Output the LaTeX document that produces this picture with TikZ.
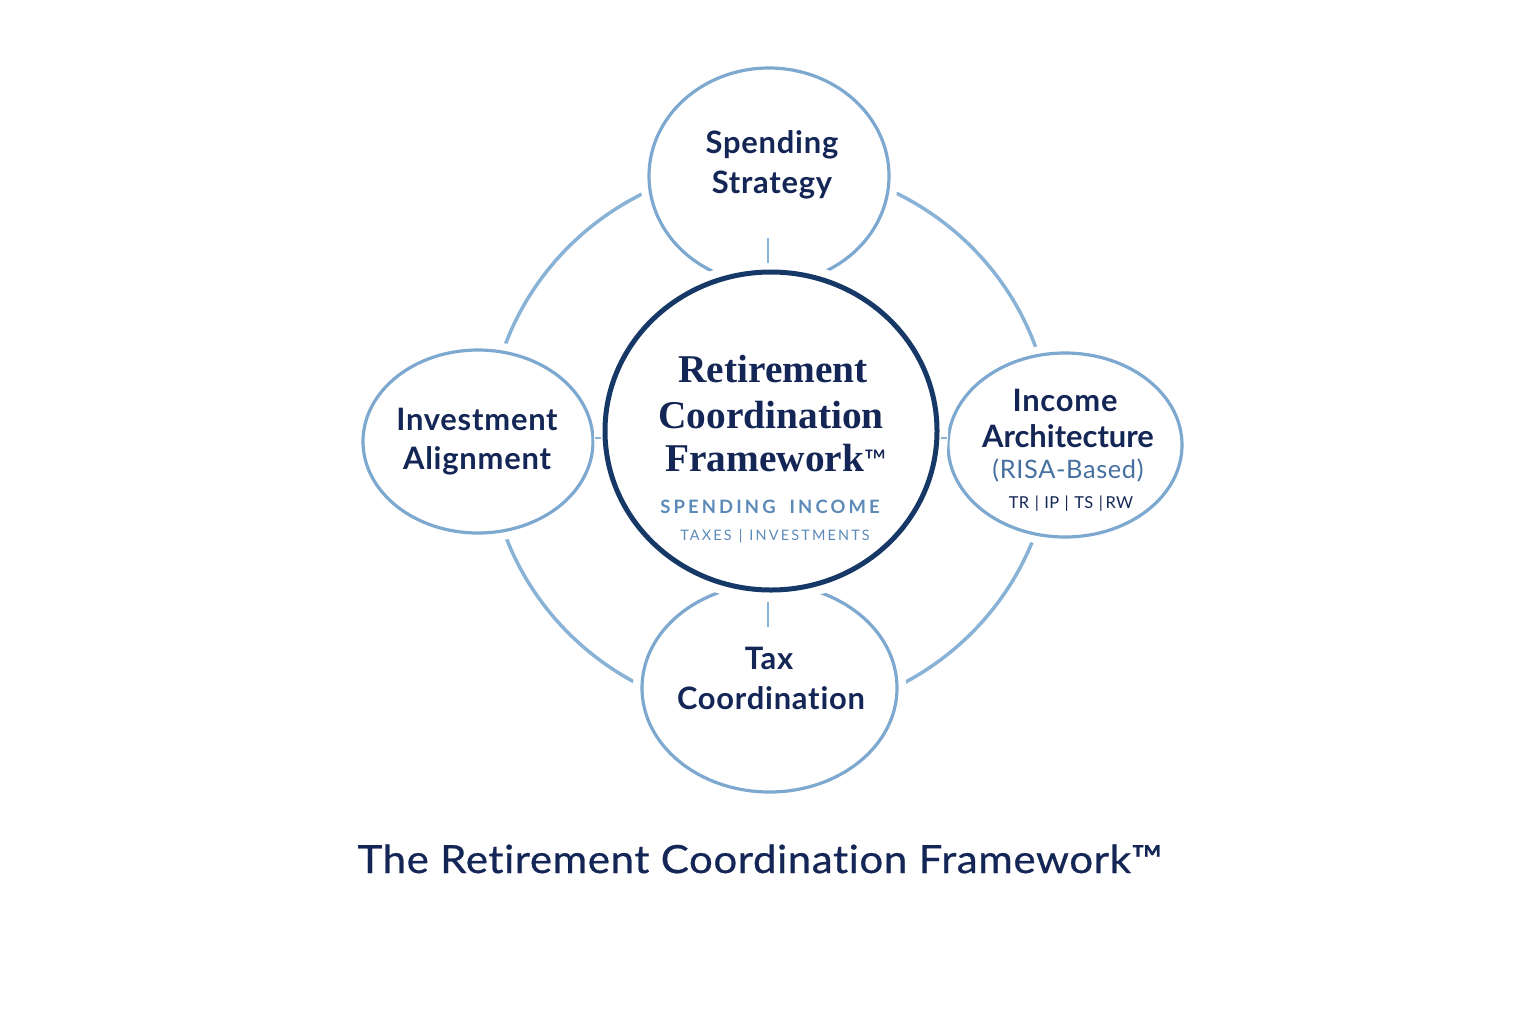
\documentclass[tikz,border=0pt]{standalone}
\usepackage{fontspec}
\setmainfont{Lato}[Ligatures=NoCommon]
\newfontfamily\satfont{Lato}[Ligatures=NoCommon, LetterSpace=2.5]
\newfontfamily\satfontn{Lato}[Ligatures=NoCommon, LetterSpace=0]
\newfontfamily\cserif{Liberation Serif}
\newfontfamily\spacedA{Lato}[LetterSpace=17, Ligatures=NoCommon]
\newfontfamily\spacedB{Lato}[LetterSpace=15, Ligatures=NoCommon]
\newfontfamily\titlefont{Lato}[Ligatures=NoCommon, LetterSpace=1.5, FakeBold=0.6]
\usetikzlibrary{shapes.geometric}
\definecolor{navy}{RGB}{20,38,86}
\definecolor{cblue}{RGB}{22,56,102}
\definecolor{satblue}{RGB}{125,168,207}
\definecolor{ringblue}{RGB}{136,178,214}
\definecolor{subblue}{RGB}{92,138,184}
\definecolor{risablue}{RGB}{70,112,160}
\tikzset{
  sat/.style={ellipse, draw=satblue, line width=3.2bp, fill=white,
    preaction={draw=white, line width=18bp}, inner sep=0pt},
  hub/.style={ellipse, draw=cblue, line width=5bp, fill=white,
    preaction={draw=white, line width=22bp}, inner sep=0pt},
  ringline/.style={ellipse, draw=ringblue, line width=3.5bp, inner sep=0pt},
  tick/.style={draw=ringblue, line width=2.5bp},
  sattext/.style={font=\satfont\bfseries\fontsize{31}{36}\selectfont, text=navy, anchor=base, inner sep=0pt},
  hubtext/.style={font=\cserif\bfseries\fontsize{39.5}{44}\selectfont, text=navy, anchor=base, inner sep=0pt},
}
\begin{document}
\begin{tikzpicture}[x=1bp,y=1bp]
\fill[white] (0,0) rectangle (1536,-1024);
\useasboundingbox (0,0) rectangle (1536,-1024);
% outer ring
\node[ringline, minimum width=564bp, minimum height=552bp] (ring) at (770,-440) {};
% satellites
\node[sat, minimum width=240bp, minimum height=216bp] (top) at (769,-176) {};
\node[sat, minimum width=230bp, minimum height=183bp] (left) at (478,-441.5) {};
\node[sat, minimum width=234bp, minimum height=184bp] (right) at (1065,-445) {};
\node[sat, minimum width=255bp, minimum height=208bp] (bottom) at (769.5,-688) {};
% hub
\node[hub, minimum width=332bp, minimum height=318bp] (hub) at (771,-431) {};
% ticks
\coordinate (t1a) at (768,-238); \coordinate (t1b) at (768,-263);
\coordinate (t2a) at (768,-602); \coordinate (t2b) at (768,-627);
\coordinate (t3a) at (594.5,-438); \coordinate (t3b) at (600.5,-438);
\coordinate (t4a) at (940.5,-438); \coordinate (t4b) at (946.5,-438);
\draw[tick] (t1a) -- (t1b);
\draw[tick] (t2a) -- (t2b);
\draw[tick] (t3a) -- (t3b);
\draw[tick] (t4a) -- (t4b);
% satellite texts
\node[sattext] (sp1) at (772,-153) {Spending};
\node[sattext] (sp2) at (772,-193) {Strategy};
\node[sattext] (ia1) at (477,-430) {Investment};
\node[sattext] (ia2) at (477,-469) {Alignment};
\node[sattext] (ic1) at (1065,-411) {Income};
\node[sattext, font=\satfontn\bfseries\fontsize{31}{36}\selectfont] (ic2) at (1068,-447) {Architecture};
\node[anchor=base, inner sep=0pt, text=risablue, font=\satfont\fontsize{25.5}{30}\selectfont] (ic3) at (1068,-478) {(RISA-Based)};
\node[anchor=base, inner sep=0pt, text=navy, font=\satfont\fontsize{16.5}{20}\selectfont] (ic4) at (1071,-508) {TR\,\,|\,\,IP\,\,|\,\,TS\,\,|\,RW};
\node[sattext] (tc1) at (769,-669) {Tax};
\node[sattext] (tc2) at (771,-709) {Coordination};
% hub texts
\node[hubtext] (h1) at (773,-382) {Retirement};
\node[hubtext] (h2) at (771,-428) {Coordination};
\node[hubtext] (h3) at (776,-471) {Framework{\normalfont\fontsize{30}{30}\selectfont ™}};
\node[anchor=base, inner sep=0pt, text=subblue, font=\spacedA\bfseries\fontsize{18.5}{22}\selectfont] (h4) at (770,-513) {SPENDING\hspace{14bp}INCOME};
\node[anchor=base, inner sep=0pt, text=subblue, font=\spacedB\fontsize{14.5}{18}\selectfont] (h5) at (775,-540) {TAXES\hspace{7bp}|\hspace{7bp}INVESTMENTS};
% title
\node[anchor=base, inner sep=0pt, text=navy, font=\titlefont\fontsize{39}{44}\selectfont] (title) at (760,-873) {\scalebox{1.08}[1]{The Retirement Coordination Framework™}};
\end{tikzpicture}
\end{document}
